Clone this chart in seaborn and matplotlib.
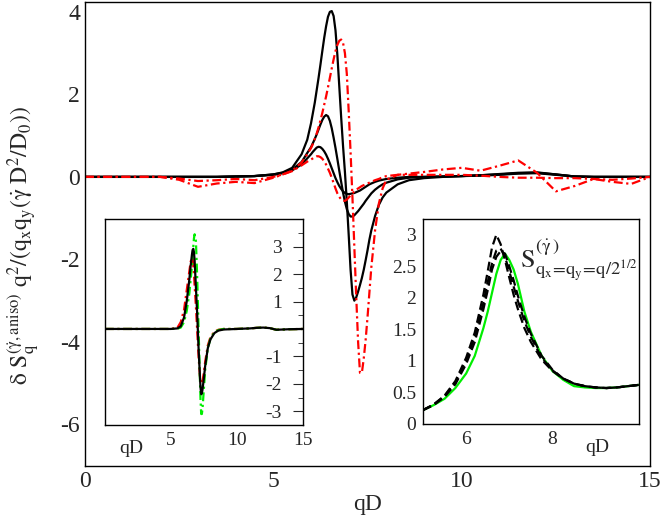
import numpy as np
import pandas as pd
import matplotlib
matplotlib.use("Agg")
import matplotlib.pyplot as plt
import seaborn as sns
from matplotlib.ticker import MultipleLocator, FuncFormatter

# main panel: anisotropic part of S_q vs qD
qd_main = [0, 1, 2, 2.5, 3, 3.5, 4, 4.5, 5, 5.25, 5.5, 5.75, 5.9,
           6.0, 6.05, 6.1, 6.15, 6.2, 6.25, 6.3, 6.35, 6.4, 6.45, 6.5, 6.55, 6.6, 6.65,
           6.7, 6.75, 6.8, 6.85, 6.9, 6.95, 7.0, 7.05, 7.1, 7.15, 7.2, 7.25, 7.3, 7.35,
           7.4, 7.45, 7.5, 7.55, 7.6,
           7.7, 7.8, 7.9, 8.0,
           8.3, 8.6, 9, 9.5, 10, 10.5, 11, 11.5, 12, 12.5, 13, 13.5, 14, 14.5, 15]
black_a = [0, 0, 0, 0, 0, 0, 0.01, 0.02, 0.06, 0.11, 0.22, 0.55, 0.9,
           1.3, 1.55, 1.8, 2.1, 2.4, 2.72, 3.05, 3.37, 3.65, 3.88, 4.0, 4.02, 3.9, 3.55,
           2.95, 2.2, 1.45, 0.75, 0.12, -0.6, -1.4, -2.25, -2.85, -3.0, -2.92, -2.78, -2.62, -2.45,
           -2.25, -2.02, -1.78, -1.52, -1.3,
           -0.95, -0.68, -0.5, -0.38,
           -0.18, -0.08, -0.03, 0.0, 0.02, 0.04, 0.07, 0.1, 0.11, 0.06, 0.01, 0, 0, 0, 0]
black_b = [0, 0, 0, 0, 0, 0, 0.01, 0.02, 0.06, 0.1, 0.18, 0.36, 0.58,
           0.72, 0.82, 0.92, 1.03, 1.15, 1.27, 1.38, 1.46, 1.5, 1.47, 1.36, 1.18, 0.95, 0.7,
           0.43, 0.15, -0.12, -0.38, -0.6, -0.78, -0.9, -0.96, -0.96, -0.93, -0.88, -0.83, -0.77, -0.71,
           -0.65, -0.58, -0.52, -0.46, -0.4,
           -0.31, -0.24, -0.18, -0.14,
           -0.06, -0.02, 0, 0.01, 0.02, 0.04, 0.06, 0.09, 0.1, 0.06, 0.01, 0, 0, 0, 0]
black_c = [0, 0, 0, 0, 0, 0, 0.01, 0.02, 0.05, 0.09, 0.16, 0.3, 0.45,
           0.55, 0.61, 0.66, 0.71, 0.73, 0.72, 0.68, 0.62, 0.54, 0.44, 0.33, 0.21, 0.09, -0.03,
           -0.13, -0.22, -0.29, -0.35, -0.39, -0.41, -0.42, -0.41, -0.4, -0.39, -0.37, -0.35, -0.33, -0.3,
           -0.27, -0.24, -0.21, -0.18, -0.16,
           -0.12, -0.09, -0.07, -0.05,
           -0.02, 0, 0, 0.01, 0.02, 0.03, 0.05, 0.08, 0.09, 0.05, 0.01, 0, 0, 0, 0]
red_big = [0, 0, 0, -0.07, -0.24, -0.16, -0.12, -0.15, -0.02, 0.06, 0.15, 0.35, 0.55,
           0.7, 0.8, 0.92, 1.05, 1.2, 1.37, 1.55, 1.75, 1.95, 2.17, 2.4, 2.63, 2.85, 3.05,
           3.2, 3.3, 3.33, 3.25, 3.0, 2.5, 1.6, 0.6, -0.5, -1.7, -2.9, -4.0, -4.75, -4.75,
           -4.4, -3.95, -3.4, -2.8, -2.2,
           -1.3, -0.65, -0.28, -0.07,
           0.05, 0.08, 0.12, 0.18, 0.22, 0.15, 0.27, 0.4, 0.1, -0.35, -0.22, -0.05, -0.12, -0.17, 0]
red_small = [0, 0, 0, -0.04, -0.1, -0.08, -0.05, -0.08, 0.0, 0.06, 0.14, 0.28, 0.37,
             0.42, 0.45, 0.48, 0.5, 0.5, 0.48, 0.44, 0.38, 0.3, 0.2, 0.1, -0.02, -0.15, -0.28,
             -0.4, -0.48, -0.55, -0.58, -0.58, -0.55, -0.5, -0.45, -0.4, -0.35, -0.31, -0.28, -0.25, -0.22,
             -0.2, -0.18, -0.16, -0.14, -0.12,
             -0.08, -0.05, -0.01, 0.02,
             0.05, 0.05, 0.05, 0.05, 0.05, 0.03, 0.0, -0.02, -0.02, -0.03, -0.03, -0.05, -0.07, -0.04, 0]

# left inset
qd_in1 = [0, 2, 4, 5, 5.5, 5.75, 6.0, 6.2, 6.4, 6.5, 6.6, 6.65, 6.7, 6.75, 6.8, 6.9, 7.0, 7.1,
          7.2, 7.25, 7.3, 7.35, 7.4, 7.5, 7.6, 7.8, 8.0, 8.3, 8.6, 9, 10, 11, 11.5, 12, 12.5,
          13, 13.5, 14, 15]
in1_black = [0, 0, 0, 0, 0.02, 0.1, 0.42, 1.0, 1.8, 2.3, 2.72, 2.88, 2.92, 2.8, 2.5, 1.5, 0.5, -0.7,
             -1.7, -2.15, -2.38, -2.35, -2.2, -1.8, -1.35, -0.7, -0.38, -0.15, -0.06, -0.02, 0, 0.02,
             0.04, 0.05, 0.03, -0.03, -0.02, -0.01, 0]
in1_red = [0, 0, 0, 0, 0.05, 0.25, 0.7, 1.4, 2.1, 2.45, 2.6, 2.55, 2.3, 2.0, 1.6, 0.8, -0.1, -1.0,
           -1.7, -1.9, -2.0, -1.98, -1.9, -1.6, -1.2, -0.6, -0.3, -0.1, -0.03, 0, 0, 0.02,
           0.04, 0.05, 0.03, -0.03, -0.02, -0.01, 0]
in1_green = [0, 0, 0, 0, 0.01, 0.05, 0.25, 0.65, 1.3, 1.8, 2.3, 2.65, 3.0, 3.3, 3.45, 3.2, 1.8, 0.0,
             -1.8, -2.6, -3.1, -3.1, -2.9, -2.2, -1.5, -0.7, -0.35, -0.12, -0.04, 0, 0, 0.02,
             0.04, 0.05, 0.03, -0.03, -0.02, -0.01, 0]

# right inset: S along q_x = q_y
qd_in2 = [5.0, 5.25, 5.5, 5.75, 6.0, 6.2, 6.4, 6.5, 6.6, 6.7, 6.8, 6.9, 7.0, 7.1, 7.2, 7.35,
          7.5, 7.75, 8.0, 8.25, 8.5, 8.75, 9.0, 9.25, 9.5, 9.75, 10.0]
s_green = [0.22, 0.3, 0.4, 0.57, 0.8, 1.08, 1.52, 1.78, 2.08, 2.38, 2.6, 2.7, 2.6, 2.45, 2.22, 1.78,
           1.46, 1.08, 0.84, 0.7, 0.6, 0.58, 0.57, 0.57, 0.58, 0.6, 0.62]
s_dash1 = [0.22, 0.31, 0.45, 0.68, 1.05, 1.45, 2.05, 2.42, 2.8, 3.0, 2.85, 2.6, 2.32, 2.05, 1.82, 1.52,
           1.3, 1.02, 0.84, 0.72, 0.64, 0.6, 0.58, 0.57, 0.58, 0.6, 0.62]
s_dash2 = [0.22, 0.31, 0.44, 0.66, 1.0, 1.38, 1.92, 2.25, 2.55, 2.75, 2.78, 2.65, 2.42, 2.18, 1.95, 1.63,
           1.38, 1.05, 0.85, 0.72, 0.64, 0.6, 0.58, 0.57, 0.58, 0.6, 0.62]
s_dash3 = [0.22, 0.3, 0.43, 0.63, 0.95, 1.3, 1.82, 2.12, 2.45, 2.65, 2.74, 2.7, 2.5, 2.28, 2.03, 1.7,
           1.43, 1.08, 0.86, 0.72, 0.64, 0.6, 0.58, 0.57, 0.58, 0.6, 0.62]

sns.set_style("white")
plt.rcParams["font.family"] = ["Liberation Serif", "DejaVu Serif"]
plt.rcParams["mathtext.fontset"] = "stix"
plt.rcParams["mathtext.default"] = "rm"
plt.rcParams["axes.unicode_minus"] = False
plt.rcParams["axes.linewidth"] = 1.0
plt.rcParams["axes.edgecolor"] = "black"

dashdot = (0, (4, 1.6, 1, 1.6))
dashed = (0, (4, 2))
lw = 1.6

fig = plt.figure(figsize=(6.64, 5.25), dpi=100)
ax = fig.add_axes([0.128, 0.113, 0.851, 0.884])

for vals in [black_a, black_b, black_c]:
    sns.lineplot(x=qd_main, y=vals, ax=ax, color="black", lw=lw, estimator=None)
for vals in [red_big, red_small]:
    sns.lineplot(x=qd_main, y=vals, ax=ax, color="red", lw=lw, linestyle=dashdot, estimator=None)

ax.set_xlim(0, 15)
ax.set_ylim(-7.0, 4.25)
ax.set_xticks([0, 5, 10, 15])
ax.set_yticks([-6, -4, -2, 0, 2, 4])
ax.xaxis.set_minor_locator(MultipleLocator(2.5))
ax.yaxis.set_minor_locator(MultipleLocator(1))
ax.tick_params(which="both", direction="in", labelsize=17, color="black")
ax.tick_params(which="major", length=10, width=1)
ax.tick_params(which="minor", length=5, width=1)
ax.set_xlabel("qD", fontsize=17, labelpad=2)
fig.text(0.035, 0.533,
         r"$\delta\ S_q^{(\dot{\gamma},aniso)}\ q^2/(q_xq_y(\dot{\gamma}\ D^2/D_0))$",
         rotation=90, ha="center", va="center", fontsize=17)

# left inset
ax1 = fig.add_axes([0.158, 0.1905, 0.298, 0.392])
sns.lineplot(x=qd_in1, y=in1_red, ax=ax1, color="red", lw=lw, linestyle=dashdot, estimator=None)
sns.lineplot(x=qd_in1, y=in1_green, ax=ax1, color="#00ee00", lw=lw, linestyle=dashdot, estimator=None)
sns.lineplot(x=qd_in1, y=in1_black, ax=ax1, color="black", lw=lw, estimator=None)
ax1.set_xlim(0, 15)
ax1.set_ylim(-3.5, 4)
ax1.set_xticks([5, 10, 15])
ax1.xaxis.set_minor_locator(MultipleLocator(2.5))
ax1.set_yticks([-3, -2, -1, 0, 1, 2, 3])
ax1.set_yticklabels(["-3", "-2", "-1", "", "1", "2", "3"])
ax1.yaxis.set_minor_locator(MultipleLocator(0.5))
ax1.yaxis.tick_right()
ax1.tick_params(which="both", direction="in", labelsize=14)
ax1.tick_params(axis="x", which="major", length=9, pad=5)
ax1.tick_params(axis="x", which="minor", length=4.5)
ax1.tick_params(axis="y", which="major", length=7, pad=-15)
ax1.tick_params(axis="y", which="minor", length=3.5)
for t in ax1.get_yticklabels():
    t.set_horizontalalignment("right")
ax1.text(0.135, -0.075, "qD", transform=ax1.transAxes, ha="center", va="top", fontsize=14)

# right inset
ax2 = fig.add_axes([0.637, 0.1924, 0.325, 0.3905])
sns.lineplot(x=qd_in2, y=s_green, ax=ax2, color="#00ee00", lw=lw, estimator=None)
for vals in [s_dash1, s_dash2, s_dash3]:
    sns.lineplot(x=qd_in2, y=vals, ax=ax2, color="black", lw=lw, linestyle=dashed, estimator=None)
ax2.set_xlim(5, 10)
ax2.set_ylim(0, 3.25)
ax2.set_xticks([6, 8])
ax2.set_xticks([7, 9], minor=True)
ax2.yaxis.set_major_locator(MultipleLocator(0.5))
ax2.yaxis.set_minor_locator(MultipleLocator(0.25))
ax2.yaxis.set_major_formatter(FuncFormatter(lambda v, p: "%g" % v))
ax2.tick_params(which="both", direction="in", labelsize=14)
ax2.tick_params(which="major", length=9, pad=5)
ax2.tick_params(which="minor", length=4.5)
ax2.text(0.806, -0.075, "qD", transform=ax2.transAxes, ha="center", va="top", fontsize=14)
ax2.text(0.45, 0.8, r"$S^{(\dot{\gamma}\,)}_{q_x\!=\!q_y\!=\!q/2^{1/2}}$",
         transform=ax2.transAxes, ha="left", va="center", fontsize=19)

fig.savefig("out.png", dpi=100)
